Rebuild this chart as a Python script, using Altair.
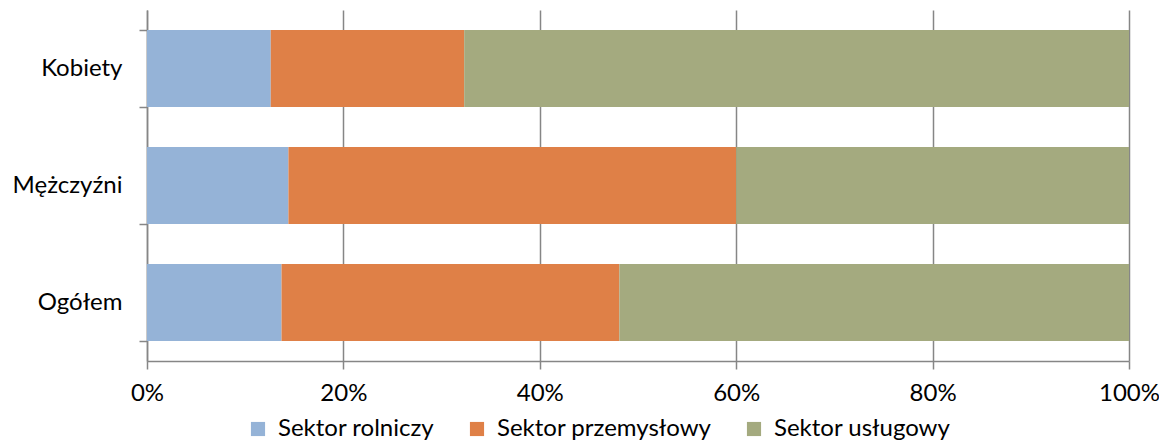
import altair as alt
import pandas as pd

groups = ["Kobiety", "Mężczyźni", "Ogółem"]
sectors = ["Sektor rolniczy", "Sektor przemysłowy", "Sektor usługowy"]
rolniczy = [12.6, 14.4, 13.7]
przemyslowy = [19.7, 45.6, 34.4]
uslugowy = [67.7, 40.0, 51.9]
colors = ["#95B3D7", "#DF8047", "#A4AA7F"]

rows = []
for i, g in enumerate(groups):
    for j, (s, vals) in enumerate(zip(sectors, [rolniczy, przemyslowy, uslugowy])):
        rows.append({"grupa": g, "sektor": s, "wartosc": vals[i], "kolejnosc": j})
df = pd.DataFrame(rows)

FONT = "Lato"
FS = 24

chart = alt.Chart(df).mark_bar(size=77).encode(
    y=alt.Y("grupa:N", sort=groups, title=None,
            scale=alt.Scale(paddingInner=0.342, paddingOuter=0.171),
            axis=alt.Axis(tickBand="extent", tickSize=8, tickColor="#868686", tickWidth=1.5,
                          domainColor="#868686", domainWidth=1.5, labelPadding=17,
                          labelFontSize=FS, labelFont=FONT, labelColor="#000000", grid=False)),
    x=alt.X("wartosc:Q", stack="normalize", title=None,
            scale=alt.Scale(domain=[0, 1], nice=False),
            axis=alt.Axis(format=".0%", values=[0, 0.2, 0.4, 0.6, 0.8, 1.0], tickSize=8,
                          tickColor="#868686", tickWidth=1.5, domainColor="#868686", domainWidth=1.5,
                          gridColor="#868686", gridWidth=1.5, labelPadding=12, labelFlush=False,
                          labelFontSize=FS, labelFont=FONT, labelColor="#000000")),
    color=alt.Color("sektor:N", sort=sectors, title=None,
                    scale=alt.Scale(domain=sectors, range=colors),
                    legend=alt.Legend(orient="none", legendX=99, legendY=407, direction="horizontal",
                                      symbolType="square", symbolSize=200, symbolStrokeWidth=0,
                                      labelFontSize=FS, labelFont=FONT, labelColor="#000000",
                                      labelLimit=0, columnPadding=30, labelOffset=8)),
    order=alt.Order("kolejnosc:Q"),
).properties(
    width=982, height=351,
    autosize=alt.AutoSizeParams(type="none"),
    padding={"left": 139, "top": 2, "right": 30, "bottom": 83},
).configure_view(stroke=None)

chart.save("out.html", embed_options={"renderer": "svg", "actions": False})
